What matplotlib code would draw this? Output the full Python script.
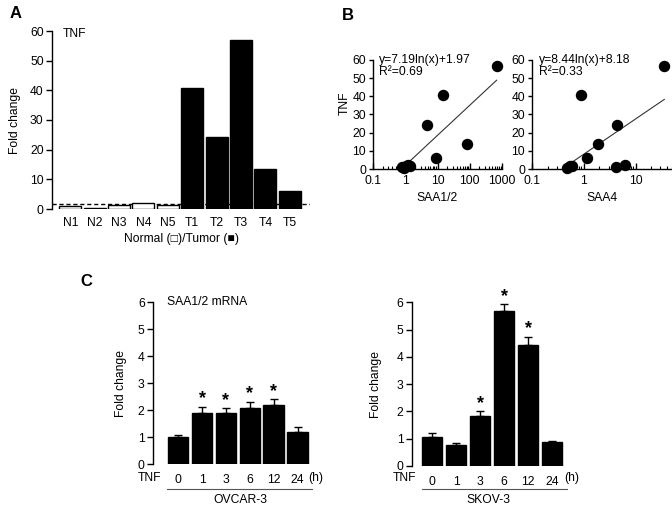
import numpy as np
import matplotlib
matplotlib.use('Agg')
import matplotlib.pyplot as plt
from matplotlib.lines import Line2D
from matplotlib.ticker import FixedLocator, LogLocator, NullFormatter

plt.rcParams['font.family'] = ['Liberation Sans', 'DejaVu Sans']
plt.rcParams['font.size'] = 8.7

# ---------------- data ----------------
samples = ['N1', 'N2', 'N3', 'N4', 'N5', 'T1', 'T2', 'T3', 'T4', 'T5']
tnf_fold = [1.0, 0.4, 1.5, 2.0, 1.4, 40.7, 24.3, 56.8, 13.5, 6.0]
is_tumor = [False] * 5 + [True] * 5
cutoff = 1.6

saa12_fold = [0.8, 0.9, 1.05, 1.2, 1.4, 15.0, 4.7, 680.0, 80.0, 9.0]
saa4_fold = [4.2, 0.47, 0.55, 6.3, 0.6, 0.87, 4.3, 35.5, 1.85, 1.13]
fit12 = (7.19, 1.97)
fit4 = (8.44, 8.18)
r2_12 = 0.69
r2_4 = 0.33

hours = ['0', '1', '3', '6', '12', '24']
ovcar_mean = [1.02, 1.88, 1.90, 2.07, 2.19, 1.20]
ovcar_err = [0.08, 0.25, 0.17, 0.24, 0.22, 0.17]
ovcar_sig = [False, True, True, True, True, False]
skov_mean = [1.08, 0.77, 1.85, 5.69, 4.43, 0.89]
skov_err = [0.12, 0.06, 0.17, 0.24, 0.31, 0.04]
skov_sig = [False, False, True, True, True, False]

# ---------------- layout helpers ----------------
W, H = 672, 511
fig = plt.figure(figsize=(W / 100, H / 100), dpi=100)


def fx(x):
    return x / W


def fy(y):
    return 1 - y / H


def ax_px(left, top, right, bottom):
    return fig.add_axes([left / W, 1 - bottom / H, (right - left) / W, (bottom - top) / H])


def style(ax):
    for s in ['top', 'right']:
        ax.spines[s].set_visible(False)
    ax.spines['left'].set_linewidth(1.0)
    ax.spines['bottom'].set_linewidth(1.0)


# ---------------- Panel A ----------------
axA = ax_px(52, 31, 310, 209)
style(axA)
axA.spines['bottom'].set_visible(False)
xA = np.arange(len(samples))
axA.axhline(cutoff, color='black', lw=1.0, ls=(0, (3, 2)), zorder=1)
axA.bar(xA, tnf_fold, width=0.9,
        color=['black' if t else 'white' for t in is_tumor],
        edgecolor='black', linewidth=1.0, zorder=2)
axA.set_xlim(-0.75, 9.83)
axA.set_ylim(0, 60)
axA.set_yticks(np.arange(0, 61, 10))
axA.set_xticks(xA)
axA.set_xticklabels(samples)
axA.tick_params(axis='x', length=0, pad=6)
axA.tick_params(axis='y', length=4, width=1.0, pad=2)
axA.set_ylabel('Fold change', labelpad=4)
axA.yaxis.set_label_coords(-0.12, 0.5)
axA.text(0.04, 0.985, 'TNF', transform=axA.transAxes, ha='left', va='center')
fig.text(fx(181), fy(239), 'Normal (\u25a1)/Tumor (\u25a0)', ha='center', va='center')
fig.text(fx(10), fy(14), 'A', ha='left', va='center', fontsize=12, fontweight='bold')

# ---------------- Panel B ----------------
def scatter_panel(ax, xs, fit, r2, xlim, xticks, xticklabels, xlabel):
    style(ax)
    ax.set_xscale('log')
    ax.scatter(xs, tnf_fold, s=52, color='black', zorder=3, clip_on=False)
    xx = np.logspace(np.log10(min(xs)), np.log10(max(xs)), 100)
    ax.plot(xx, fit[0] * np.log(xx) + fit[1], color='#333333', lw=0.8, zorder=2)
    ax.set_xlim(*xlim)
    ax.set_ylim(0, 60)
    ax.set_yticks(np.arange(0, 61, 10))
    ax.xaxis.set_major_locator(FixedLocator(xticks))
    ax.set_xticklabels(xticklabels)
    ax.xaxis.set_minor_locator(LogLocator(base=10, subs=np.arange(2, 10)))
    ax.xaxis.set_minor_formatter(NullFormatter())
    ax.tick_params(axis='x', which='major', direction='in', length=4, width=1.0, pad=4)
    ax.tick_params(axis='x', which='minor', direction='in', length=2.5, width=0.8)
    ax.tick_params(axis='y', length=3, width=1.0, pad=2)
    ax.set_xlabel(xlabel, labelpad=4)
    ax.text(0.05, 1.0, 'y=%.2fln(x)+%.2f' % fit, transform=ax.transAxes,
            ha='left', va='center')
    ax.text(0.05, 0.89, 'R\u00b2=%.2f' % r2,
            transform=ax.transAxes, ha='left', va='center')


axB1 = ax_px(373, 60, 502, 169)
scatter_panel(axB1, saa12_fold, fit12, r2_12, (0.1, 1000), [0.1, 1, 10, 100, 1000],
              ['0.1', '1', '10', '100', '1000'], 'SAA1/2')
axB1.set_ylabel('TNF', labelpad=2)
axB1.yaxis.set_label_coords(-0.17, 0.6)

axB2 = ax_px(532, 60, 672, 169)
scatter_panel(axB2, saa4_fold, fit4, r2_4, (0.1, 50), [0.1, 1, 10],
              ['0.1', '1', '10'], 'SAA4')
fig.text(fx(342), fy(15), 'B', ha='left', va='center', fontsize=12, fontweight='bold')

# ---------------- Panel C ----------------
def bar_panel(ax, means, errs, sig, xlim):
    style(ax)
    ax.spines['bottom'].set_visible(False)
    x = np.arange(len(hours))
    ax.bar(x, means, width=0.86, color='black', edgecolor='black', zorder=2)
    ax.errorbar(x, means, yerr=[np.zeros(len(errs)), errs], fmt='none',
                ecolor='black', elinewidth=1.0, capsize=3, capthick=1.0, zorder=3)
    for xi, m, e, s in zip(x, means, errs, sig):
        if s:
            ax.text(xi, m + e + 0.12, '*', ha='center', va='baseline',
                    fontsize=13, fontweight='bold')
    ax.set_xlim(*xlim)
    ax.set_ylim(0, 6)
    ax.set_yticks(np.arange(0, 7, 1))
    ax.set_xticks(x)
    ax.set_xticklabels(hours)
    ax.tick_params(axis='x', length=0, pad=7)
    ax.tick_params(axis='y', length=4, width=1.0, pad=2)
    ax.set_ylabel('Fold change')


axC1 = ax_px(153, 302, 312, 464.3)
bar_panel(axC1, ovcar_mean, ovcar_err, ovcar_sig, (-1.05, 5.6))
axC1.yaxis.set_label_coords(-0.165, 0.5)
axC1.text(0.09, 1.0, 'SAA1/2 mRNA', transform=axC1.transAxes, ha='left', va='center')
fig.text(fx(149), fy(478), 'TNF', ha='center', va='center')
fig.text(fx(316), fy(478), '(h)', ha='center', va='center')
fig.add_artist(Line2D([fx(167), fx(312)], [fy(489), fy(489)], color='#555555', lw=0.8))
fig.text(fx(240), fy(500), 'OVCAR-3', ha='center', va='center')
fig.text(fx(86), fy(282), 'C', ha='center', va='center', fontsize=12, fontweight='bold')

axC2 = ax_px(411.7, 302.3, 566.5, 466)
bar_panel(axC2, skov_mean, skov_err, skov_sig, (-0.85, 5.6))
axC2.yaxis.set_label_coords(-0.19, 0.5)
fig.text(fx(404), fy(478), 'TNF', ha='center', va='center')
fig.text(fx(572), fy(478), '(h)', ha='center', va='center')
fig.add_artist(Line2D([fx(422), fx(567)], [fy(489), fy(489)], color='#555555', lw=0.8))
fig.text(fx(488), fy(500), 'SKOV-3', ha='center', va='center')

fig.savefig('out.png', dpi=100)
